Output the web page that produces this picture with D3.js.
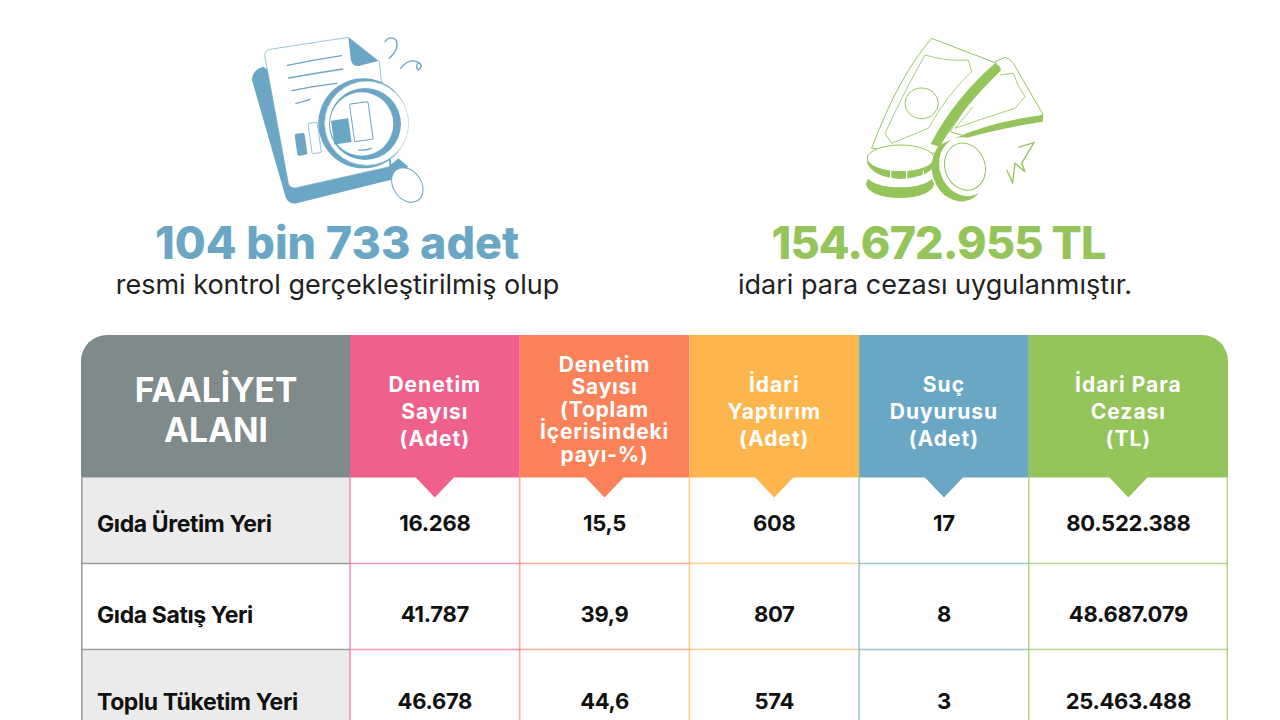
<!DOCTYPE html>
<html><head><meta charset="utf-8">
<script src="https://cdnjs.cloudflare.com/ajax/libs/d3/7.8.5/d3.min.js"></script>
<style>html,body{margin:0;padding:0;background:#fff;overflow:hidden}svg{display:block}text{font-family:Inter,sans-serif}</style>
</head><body><svg id="c" width="1280" height="720"></svg>
<script>
const rowLabels = ["Gıda Üretim Yeri","Gıda Satış Yeri","Toplu Tüketim Yeri"];
const columnKeys = ["denetim","pay","yaptirim","suc","ceza"];
const columnTitles = [
  ["Denetim","Sayısı","(Adet)"],
  ["Denetim","Sayısı","(Toplam","İçerisindeki","payı-%)"],
  ["İdari","Yaptırım","(Adet)"],
  ["Suç","Duyurusu","(Adet)"],
  ["İdari Para","Cezası","(TL)"]
];
const columnColors = ["#f0608c","#fb8258","#fdb64e","#69a7c4","#95c45b"];
const denetimValues = ["16.268","41.787","46.678"];
const payValues = ["15,5","39,9","44,6"];
const yaptirimValues = ["608","807","574"];
const sucValues = ["17","8","3"];
const cezaValues = ["80.522.388","48.687.079","25.463.488"];
const seriesValues = [denetimValues,payValues,yaptirimValues,sucValues,cezaValues];
const firstHeader = ["FAALİYET","ALANI"];

const svg = d3.select("#c");
const x = d3.scaleBand().domain(columnKeys).range([350,1198.5]).paddingInner(0).paddingOuter(0);
const y = d3.scaleBand().domain(rowLabels).range([477.5,735.5]);
const tLeft = 81, tRight = 1228, tTop = 335, headBottom = 477.5, grey = "#7f8a8b";
const colW = (i)=> i===4 ? tRight - x(columnKeys[4]) : x.bandwidth();
const textShift = [3,8,9];
const rowTextY = (i)=> y(rowLabels[i]) + y.bandwidth()/2 + textShift[i];

// row backgrounds
svg.selectAll("rect.rowbg").data(rowLabels).join("rect")
  .attr("x",tLeft).attr("y",d=>y(d)).attr("width",x(columnKeys[0])-tLeft).attr("height",y.bandwidth())
  .attr("fill",(d,i)=>i%2===0?"#ebebeb":"#fff");

// grid
columnKeys.forEach((k,i)=>{
  const c = columnColors[i];
  const g = svg.append("g").attr("fill","none").attr("stroke",c).attr("stroke-opacity",0.65).attr("stroke-width",1.6);
  g.append("line").attr("x1",x(k)).attr("x2",x(k)).attr("y1",headBottom).attr("y2",720);
  if(i===4) g.append("line").attr("x1",tRight-0.8).attr("x2",tRight-0.8).attr("y1",headBottom).attr("y2",720);
  rowLabels.slice(1).forEach(r=>g.append("line").attr("x1",x(k)).attr("x2",x(k)+colW(i)).attr("y1",y(r)).attr("y2",y(r)));
});
const gg = svg.append("g").attr("stroke","#9a9f9f").attr("stroke-width",1.6);
gg.append("line").attr("x1",tLeft+0.8).attr("x2",tLeft+0.8).attr("y1",headBottom).attr("y2",720);
rowLabels.slice(1).forEach(r=>gg.append("line").attr("x1",tLeft).attr("x2",x(columnKeys[0])).attr("y1",y(r)).attr("y2",y(r)));

// header cells
const rad = 26;
const p0=d3.path();p0.moveTo(tLeft,headBottom);p0.lineTo(tLeft,tTop+rad);p0.arcTo(tLeft,tTop,tLeft+rad,tTop,rad);p0.lineTo(x(columnKeys[0]),tTop);p0.lineTo(x(columnKeys[0]),headBottom);p0.closePath();
svg.append("path").attr("fill",grey).attr("d",p0.toString());
columnKeys.forEach((k,i)=>{
  const xx=x(k), w=colW(i), cx=xx+w/2, p=d3.path();
  p.moveTo(xx,headBottom);p.lineTo(xx,tTop);
  if(i===4){p.lineTo(tRight-rad,tTop);p.arcTo(tRight,tTop,tRight,tTop+rad,rad);p.lineTo(tRight,headBottom);}
  else {p.lineTo(xx+w,tTop);p.lineTo(xx+w,headBottom);}
  p.lineTo(cx+19,headBottom);p.lineTo(cx,headBottom+20);p.lineTo(cx-19,headBottom);p.closePath();
  svg.append("path").attr("d",p.toString()).attr("fill",columnColors[i]);
  const lines=columnTitles[i], lh=lines.length>3?22.5:27, cy=lines.length>3?409:411;
  svg.append("g").selectAll("text").data(lines).join("text")
    .attr("x",cx).attr("y",(d,j)=>cy+(j-(lines.length-1)/2)*lh)
    .attr("dy","0.36em").attr("text-anchor","middle").attr("fill","#fff")
    .attr("font-weight",700).attr("font-size",21).attr("letter-spacing",lines.length>3?0.8:1).text(d=>d);
});
svg.append("g").selectAll("text").data(firstHeader).join("text")
  .attr("x",216).attr("y",(d,j)=>390+j*40).attr("dy","0.36em").attr("text-anchor","middle")
  .attr("fill","#fff").attr("font-weight",700).attr("font-size",33.5).text(d=>d);

// row labels & values
svg.append("g").selectAll("text").data(rowLabels).join("text")
  .attr("x",97).attr("y",(d,i)=>rowTextY(i)).attr("dy","0.36em")
  .attr("font-weight",700).attr("font-size",23).attr("fill","#111").attr("letter-spacing",-0.4).text(d=>d);
columnKeys.forEach((k,i)=>{
  svg.append("g").selectAll("text").data(seriesValues[i]).join("text")
    .attr("x",x(k)+colW(i)/2).attr("y",(d,j)=>rowTextY(j)).attr("dy","0.36em")
    .attr("text-anchor","middle").attr("font-weight",700).attr("font-size",22).attr("fill","#111").attr("letter-spacing",-0.3).text(d=>d);
});

// summary
svg.append("text").attr("x",337).attr("y",259).attr("text-anchor","middle").attr("fill","#6ba7c4")
  .attr("font-weight",800).attr("font-size",44.8).text("104 bin 733 adet");
svg.append("text").attr("x",337.5).attr("y",294).attr("text-anchor","middle").attr("fill","#222")
  .attr("font-weight",400).attr("font-size",27).text("resmi kontrol gerçekleştirilmiş olup");
svg.append("text").attr("x",938.5).attr("y",259).attr("text-anchor","middle").attr("fill","#95c45b")
  .attr("font-weight",800).attr("font-size",44.8).attr("letter-spacing",-0.85).text("154.672.955 TL");
svg.append("text").attr("x",935).attr("y",294).attr("text-anchor","middle").attr("fill","#222")
  .attr("font-weight",400).attr("font-size",27).text("idari para cezası uygulanmıştır.");

// document icon (decorative, drawn in zoom-space)
const B="#6ba7c4", W="#fff";
const ic=svg.append("g").attr("transform","translate(230,20) scale(0.3333)");
ic.append("path").attr("fill",B).attr("d","M100 140 Q66 150 66 180 L165 525 Q172 555 200 550 L490 478 L480 400 Z");
ic.append("path").attr("fill",W).attr("stroke",B).attr("stroke-width",2).attr("d","M120 88 L355 52 L448 125 L480 440 L200 503 Q180 507 175 490 L105 110 Q102 92 120 88 Z");
ic.append("path").attr("fill",B).attr("d","M355 52 L445 123 L385 138 Q365 140 362 115 Z");
ic.append("g").attr("fill","none").attr("stroke",B).attr("stroke-width",4).attr("stroke-linecap","round").selectAll("path")
 .data(["M172 136 Q250 120 335 107","M176 174 Q255 160 338 147","M186 212 Q250 198 320 190","M198 250 Q220 245 240 238",
        "M465 65 Q480 45 498 60 Q510 85 478 115","M512 145 Q535 115 560 125 Q585 135 565 150 Q555 140 565 128"]).join("path").attr("d",d=>d);
ic.append("rect").attr("x",198).attr("y",340).attr("width",30).attr("height",66).attr("rx",6).attr("fill",B).attr("transform","rotate(-8 213 373)");
ic.append("rect").attr("x",240).attr("y",308).attr("width",28).attr("height",92).attr("rx",4).attr("fill",W).attr("stroke",B).attr("stroke-width",2).attr("transform","rotate(-8 254 354)");
ic.append("path").attr("fill",B).attr("d","M470 445 L505 415 L535 440 L495 470 Z");
ic.append("ellipse").attr("cx",532).attr("cy",495).attr("rx",42).attr("ry",56).attr("transform","rotate(-35 532 495)").attr("fill",W).attr("stroke",B).attr("stroke-width",3);
ic.append("circle").attr("cx",400).attr("cy",310).attr("r",135).attr("fill",B);
ic.append("circle").attr("cx",410).attr("cy",310).attr("r",126).attr("fill",W).attr("stroke","#b9d4e2").attr("stroke-width",2);
ic.append("circle").attr("cx",405).attr("cy",312).attr("r",108).attr("fill",B);
ic.append("circle").attr("cx",395).attr("cy",312).attr("r",95).attr("fill",W);
ic.append("rect").attr("x",308).attr("y",298).attr("width",52).attr("height",72).attr("fill",B).attr("transform","rotate(-8 334 334)");
ic.append("rect").attr("x",366).attr("y",248).attr("width",56).attr("height",114).attr("rx",4).attr("fill",W).attr("stroke",B).attr("stroke-width",3).attr("transform","rotate(-8 394 305)");
ic.append("path").attr("d","M385 390 Q405 392 425 385").attr("fill","none").attr("stroke",B).attr("stroke-width",4);

// money icon
const G="#95c45b";
const im=svg.append("g").attr("transform","translate(840,20) scale(0.3333)");
im.append("path").attr("fill",W).attr("stroke",G).attr("stroke-width",3).attr("d","M465 125 L495 112 Q510 115 520 130 L610 285 L380 350 L330 335 Z");
im.append("path").attr("fill",G).attr("d","M345 355 Q450 305 610 285 L608 305 Q480 325 375 355 Z");
im.append("path").attr("fill","none").attr("stroke",G).attr("stroke-width",2.5).attr("d","M480 165 L520 160 Q530 195 555 230 L525 265 Q430 295 345 325 L400 260");
im.append("path").attr("fill",W).attr("stroke",G).attr("stroke-width",3).attr("d","M95 385 Q175 170 275 55 L470 130 Q340 260 285 400 Z");
im.append("path").attr("fill",G).attr("d","M465 130 Q485 140 482 152 Q360 270 300 380 L272 372 Q340 240 465 130 Z");
im.append("path").attr("fill","none").attr("stroke",G).attr("stroke-width",2.5).attr("d","M135 340 Q200 200 255 105 Q320 125 385 120 L395 155 Q320 225 265 325 L155 370 Z");
im.append("ellipse").attr("cx",245).attr("cy",250).attr("rx",50).attr("ry",46).attr("fill",W).attr("stroke",G).attr("stroke-width",3);
im.append("ellipse").attr("cx",180).attr("cy",492).attr("rx",102).attr("ry",42).attr("fill",G);
im.append("ellipse").attr("cx",180).attr("cy",468).attr("rx",98).attr("ry",34).attr("fill",W);
im.append("path").attr("fill",G).attr("d","M82 410 L82 430 Q100 472 180 477 Q265 472 285 435 L285 410 Z");
im.append("ellipse").attr("cx",182).attr("cy",415).attr("rx",100).attr("ry",40).attr("fill",W).attr("stroke",G).attr("stroke-width",3);
im.append("g").attr("stroke",W).attr("stroke-width",4).selectAll("line").data([152,200,250]).join("line").attr("x1",d=>d).attr("x2",d=>d).attr("y1",452).attr("y2",478);
im.append("ellipse").attr("cx",355).attr("cy",452).attr("rx",78).attr("ry",94).attr("transform","rotate(-20 355 452)").attr("fill",G);
im.append("ellipse").attr("cx",375).attr("cy",440).attr("rx",76).attr("ry",90).attr("transform","rotate(-20 375 440)").attr("fill",W);
im.append("ellipse").attr("cx",375).attr("cy",440).attr("rx",60).attr("ry",72).attr("transform","rotate(-20 375 440)").attr("fill",W).attr("stroke",G).attr("stroke-width",3);
im.append("path").attr("fill","none").attr("stroke",G).attr("stroke-width",4).attr("d","M535 382 L582 368 L545 430 L555 455 L525 430 L518 488 L500 450");
</script></body></html>
